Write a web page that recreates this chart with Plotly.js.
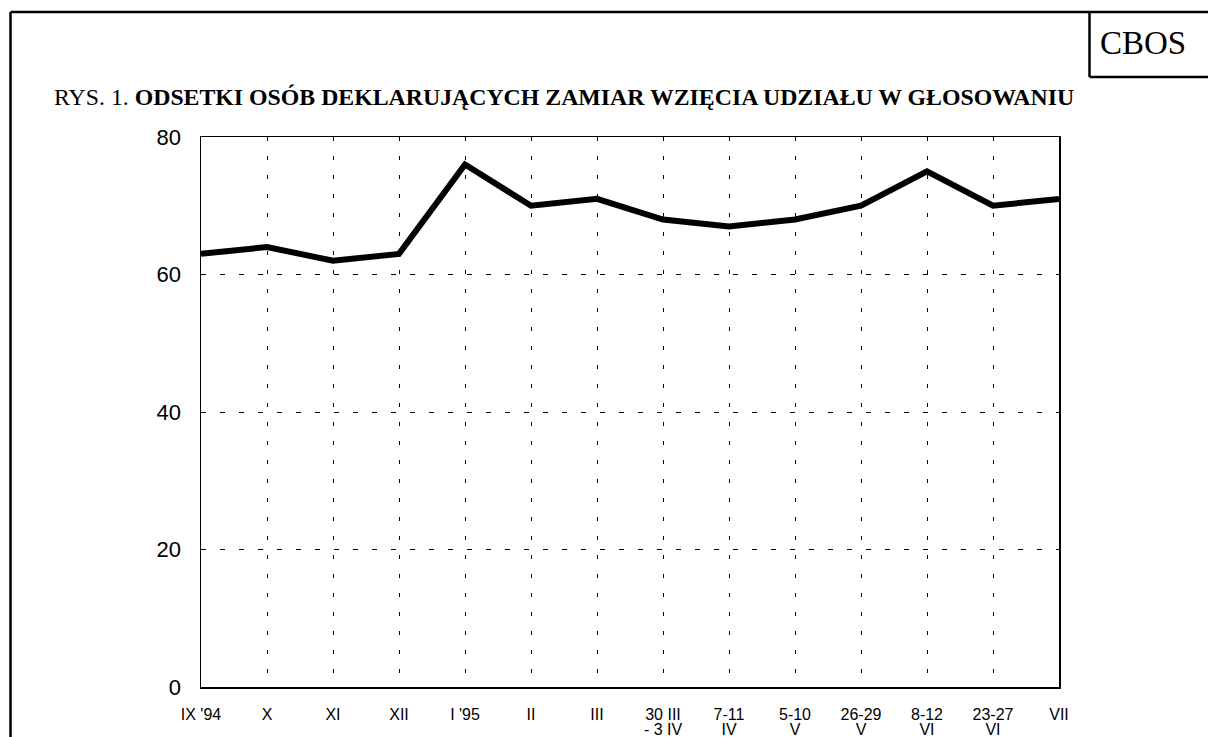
<!DOCTYPE html>
<html>
<head>
<meta charset="utf-8">
<script src="https://cdn.plot.ly/plotly-3.0.1.min.js"></script>
<style>html,body{margin:0;padding:0;background:#fff;}#chart{width:1208px;height:737px;}</style>
</head>
<body>
<div id="chart"></div>
<script>
const categories = ["IX '94", "X", "XI", "XII", "I '95", "II", "III", "30 III<br>- 3 IV", "7-11<br>IV", "5-10<br>V", "26-29<br>V", "8-12<br>VI", "23-27<br>VI", "VII"];
const values = [63, 64, 62, 63, 76, 70, 71, 68, 67, 68, 70, 75, 70, 71];
const yTicks = [0, 20, 40, 60, 80];

// tick label lines derived from the category labels
const firstLines = categories.map(c => c.split('<br>')[0]);
const twoLine = categories.filter(c => c.includes('<br>'));
const secondLines = twoLine.map(c => c.split('<br>')[1]);

const W = 1208, H = 737;
const L = 201, R = 1059, T = 137, B = 687;
const px = v => (v - L) / (R - L);
const py = v => (B - v) / (B - T);

const trace = {
  x: categories,
  y: values,
  type: 'scatter',
  mode: 'lines',
  line: {color: '#000', width: 6},
  hoverinfo: 'skip'
};
const helper = {
  x: categories,
  y: values,
  xaxis: 'x2',
  type: 'scatter',
  mode: 'lines',
  line: {color: 'rgba(0,0,0,0)', width: 0},
  hoverinfo: 'skip'
};

const tickFont = {size: 16, family: 'Liberation Sans, Arial, sans-serif', color: '#000'};

const layout = {
  width: W, height: H,
  margin: {l: L, r: W - R, t: T, b: H - B, pad: 0},
  paper_bgcolor: '#fff', plot_bgcolor: '#fff',
  showlegend: false,
  font: {family: 'Liberation Sans, Arial, sans-serif', color: '#000'},
  xaxis: {
    type: 'category',
    categoryorder: 'array', categoryarray: categories,
    range: [0, categories.length - 1],
    tickvals: categories,
    ticktext: firstLines,
    tickangle: 0,
    showgrid: true, gridcolor: '#000', gridwidth: 1, griddash: '4px,15px',
    showline: true, linecolor: '#000', linewidth: 1.5, mirror: true,
    ticks: 'outside', ticklen: 12, tickcolor: 'rgba(0,0,0,0)',
    tickfont: tickFont,
    zeroline: false, fixedrange: true
  },
  xaxis2: {
    type: 'category',
    overlaying: 'x', anchor: 'y', side: 'bottom',
    categoryorder: 'array', categoryarray: categories,
    range: [0, categories.length - 1],
    tickvals: twoLine,
    ticktext: secondLines,
    tickangle: 0,
    showgrid: false, showline: false, zeroline: false,
    ticks: 'outside', ticklen: 28, tickcolor: 'rgba(0,0,0,0)',
    tickfont: tickFont,
    fixedrange: true
  },
  yaxis: {
    range: [0, 80],
    tickvals: yTicks,
    ticktext: yTicks.map(String),
    showgrid: true, gridcolor: '#000', gridwidth: 1, griddash: '5px,14px',
    showline: true, linecolor: '#000', linewidth: 1.5, mirror: true,
    ticks: 'outside', ticklen: 14, tickcolor: 'rgba(0,0,0,0)',
    tickfont: {size: 22, family: 'Liberation Sans, Arial, sans-serif', color: '#000'},
    zeroline: false, fixedrange: true
  },
  shapes: [
    {type: 'line', xref: 'paper', yref: 'paper', x0: px(10.5), x1: px(10.5), y0: py(740), y1: py(12), line: {color: '#000', width: 2.5}},
    {type: 'line', xref: 'paper', yref: 'paper', x0: px(10.5), x1: px(1212), y0: py(12), y1: py(12), line: {color: '#000', width: 2.5}},
    {type: 'line', xref: 'paper', yref: 'paper', x0: px(1089.5), x1: px(1089.5), y0: py(12), y1: py(77), line: {color: '#000', width: 2.5}},
    {type: 'line', xref: 'paper', yref: 'paper', x0: px(1089.5), x1: px(1212), y0: py(77), y1: py(77), line: {color: '#000', width: 2.5}}
  ],
  annotations: [
    {xref: 'paper', yref: 'paper', x: px(52), y: py(97), xanchor: 'left', yanchor: 'middle', showarrow: false,
     text: 'RYS. 1. <b>ODSETKI OSÓB DEKLARUJĄCYCH ZAMIAR WZIĘCIA UDZIAŁU W GŁOSOWANIU</b>',
     font: {family: 'Liberation Serif, Times New Roman, serif', size: 23.8, color: '#000'}},
    {xref: 'paper', yref: 'paper', x: px(1143), y: py(43), xanchor: 'center', yanchor: 'middle', showarrow: false,
     text: 'CBOS',
     font: {family: 'Liberation Serif, Times New Roman, serif', size: 33, color: '#000'}}
  ]
};

Plotly.newPlot('chart', [trace, helper], layout, {displayModeBar: false, staticPlot: true});
</script>
</body>
</html>
